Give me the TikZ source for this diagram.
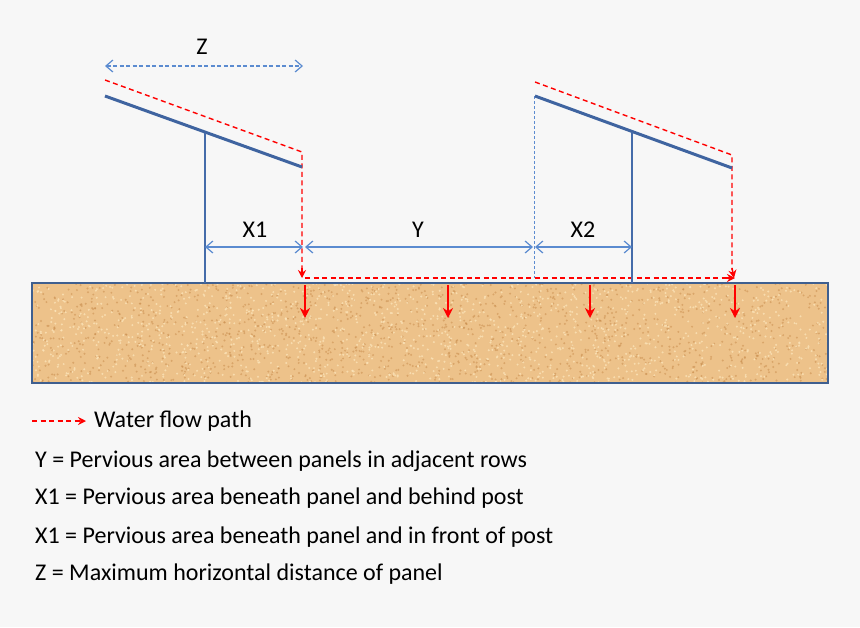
\documentclass[tikz,border=0pt]{standalone}
\usepackage{fontspec}
\setmainfont{Carlito}
\usetikzlibrary{arrows.meta}
\definecolor{bg}{HTML}{F7F7F7}
\definecolor{pan}{HTML}{3F64A0}
\definecolor{dim}{HTML}{5B8BD0}
\definecolor{sand}{HTML}{EDC28A}
\definecolor{sandd}{HTML}{C98E4E}
\definecolor{sandl}{HTML}{FBE3B8}
\definecolor{sandb}{HTML}{3F5F8F}
\begin{document}
\begin{tikzpicture}[x=1pt,y=-1pt,
  panel/.style={pan,line width=3pt},
  post/.style={pan!80!dim,line width=2.4pt},
  flow/.style={red,dash pattern=on 5pt off 3.5pt,line width=1.4pt},
  drop/.style={red,line width=2.4pt,-{Stealth[length=10pt,width=10pt]}},
  dimension/.style={dim,line width=1.2pt,{Straight Barb[length=7pt,width=12pt]}-{Straight Barb[length=7pt,width=12pt]}},
  lbl/.style={font=\fontsize{24}{28}\selectfont,inner sep=0pt},
  leg/.style={font=\fontsize{24}{28}\selectfont,anchor=west,inner sep=0pt}]
\fill[bg] (0,0) rectangle (860,627);
\useasboundingbox (0,0) rectangle (860,627);
% ground
\fill[sand] (32,283) rectangle (828,383);
\pgfmathsetseed{7}
\begin{scope}
\clip (32,283) rectangle (828,383);
\foreach \i in {1,...,1400}{
  \pgfmathsetmacro{\xx}{32+796*rnd}\pgfmathsetmacro{\yy}{283+100*rnd}
  \fill[sandd,opacity=0.55] (\xx,\yy) circle (1.1pt);}
\foreach \i in {1,...,1400}{
  \pgfmathsetmacro{\xx}{32+796*rnd}\pgfmathsetmacro{\yy}{283+100*rnd}
  \fill[sandl,opacity=0.8] (\xx,\yy) circle (1.1pt);}
\end{scope}
\draw[sandb,line width=2.4pt] (32,283) rectangle (828,383);
% coordinates
\coordinate (p1a) at (105,96); \coordinate (p1b) at (302,167);
\coordinate (s1t) at (205,133); \coordinate (s1b) at (205,283);
\coordinate (p2a) at (535,96); \coordinate (p2b) at (732,168);
\coordinate (s2t) at (632,132); \coordinate (s2b) at (632,283);
% flow paths
\draw[flow] (105,80) -- (302,152) -- (302,270);
\draw[red,line width=1.4pt,-{Stealth[length=8pt,width=8pt]}] (302,268) -- (302,278);
\draw[flow] (535,82) -- (732,155) -- (732,270);
\draw[red,line width=1.4pt,-{Stealth[length=8pt,width=8pt]}] (732,268) -- (734,278);
\draw[flow] (305,278) -- (726,278);
\draw[red,line width=1.4pt,-{Stealth[length=8pt,width=8pt]}] (725,278) -- (735,278);
% dashed blue vertical
\draw[dim,dash pattern=on 3pt off 2pt,line width=1pt] (534,96) -- (534,278);
% panels & posts
\draw[panel] (p1a) -- (p1b);
\draw[post] (s1t) -- (s1b);
\draw[panel] (p2a) -- (p2b);
\draw[post] (s2t) -- (s2b);
% dimensions
\coordinate (z1) at (105,66); \coordinate (z2) at (303,66);
\draw[dimension,dash pattern=on 4pt off 2.5pt] (z1) -- (z2);
\node[lbl] (zl) at (202,47) {Z};
\coordinate (d1) at (205,247); \coordinate (d2) at (303,247);
\coordinate (d3) at (305,247); \coordinate (d4) at (533,247);
\coordinate (d5) at (535,247); \coordinate (d6) at (632,247);
\draw[dimension] (d1) -- (d2);
\draw[dimension] (d3) -- (d4);
\draw[dimension] (d5) -- (d6);
\node[lbl] (x1l) at (255,230) {X1};
\node[lbl] (yl) at (418,230) {Y};
\node[lbl] (x2l) at (583,230) {X2};
% drops
\foreach \x/\n in {305/a,448/b,590/c,735/d}{
  \coordinate (t\n) at (\x,285); \coordinate (u\n) at (\x,318);
  \draw[drop] (t\n) -- (u\n);}
% legend
\coordinate (la) at (32,421); \coordinate (lb) at (86,421);
\draw[flow,-{Stealth[length=8pt,width=8pt]}] (la) -- (lb);
\node[leg] (l0) at (94,421) {Water flow path};
\node[leg] (l1) at (35,461) {Y = Pervious area between panels in adjacent rows};
\node[leg] (l2) at (35,498) {X1 = Pervious area beneath panel and behind post};
\node[leg] (l3) at (35,537) {X1 = Pervious area beneath panel and in front of post};
\node[leg] (l4) at (35,574) {Z = Maximum horizontal distance of panel};
\end{tikzpicture}
\end{document}
